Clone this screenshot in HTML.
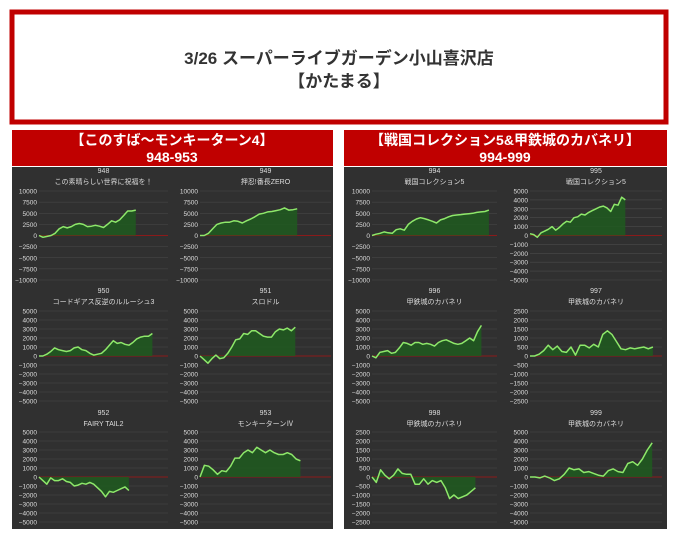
<!DOCTYPE html>
<html><head><meta charset="utf-8">
<style>
body{margin:0;width:680px;height:539px;background:#fff;overflow:hidden;font-family:"Liberation Sans","Noto Sans CJK JP",sans-serif;}
</style></head>
<body>
<svg id="svg" width="680" height="539" xmlns="http://www.w3.org/2000/svg">
<rect x="12" y="12" width="654" height="110" fill="#fff" stroke="#c00000" stroke-width="5"/>
<text x="339" y="64" text-anchor="middle" font-size="17" font-weight="bold" fill="#333" font-family="Liberation Sans, Noto Sans CJK JP, sans-serif">3/26 スーパーライブガーデン小山喜沢店</text>
<text x="339" y="87" text-anchor="middle" font-size="17" font-weight="bold" fill="#333" font-family="Liberation Sans, Noto Sans CJK JP, sans-serif">【かたまる】</text>
<rect x="12" y="130" width="321" height="36" fill="#c00000"/>
<text x="172" y="145" text-anchor="middle" font-size="14" font-weight="bold" fill="#fff" font-family="Liberation Sans, Noto Sans CJK JP, sans-serif">【このすば～モンキーターン4】</text>
<text x="172" y="162" text-anchor="middle" font-size="14" font-weight="bold" fill="#fff">948-953</text>
<rect x="12" y="167" width="321" height="362" fill="#303030"/>
<rect x="344" y="130" width="323" height="36" fill="#c00000"/>
<text x="505" y="145" text-anchor="middle" font-size="14" font-weight="bold" fill="#fff" font-family="Liberation Sans, Noto Sans CJK JP, sans-serif">【戦国コレクション5&amp;甲鉄城のカバネリ】</text>
<text x="505" y="162" text-anchor="middle" font-size="14" font-weight="bold" fill="#fff">994-999</text>
<rect x="344" y="167" width="323" height="362" fill="#303030"/>
<g id="charts"></g>
</svg>
<script>
const ids=["948","949","950","951","952","953","994","995","996","997","998","999"];
const names=["この素晴らしい世界に祝福を！","押忍!番長ZERO","コードギアス反逆のルルーシュ3","スロドル","FAIRY TAIL2","モンキーターンⅣ","戦国コレクション5","戦国コレクション5","甲鉄城のカバネリ","甲鉄城のカバネリ","甲鉄城のカバネリ","甲鉄城のカバネリ"];
const ranges=[10000,10000,5000,5000,5000,5000,10000,5000,5000,2500,2500,5000];
const tickSteps=[2500,2500,1000,1000,1000,1000,2500,1000,1000,500,500,1000];
const slots=[32,31,33,33,33,30,31,36,32,29,29,27];
const v948=[0,-400,-200,0,500,1500,2000,1700,2000,2500,2700,2500,2000,2100,2300,2100,1800,2500,3300,3000,3500,4500,5500,5500,5700];
const v949=[0,0,500,1500,2500,2800,3000,3000,3300,3200,2800,3300,3700,4200,4800,5000,5300,5400,5600,5800,6200,5700,5800,6000];
const v950=[0,0,200,500,900,700,600,500,600,900,1000,700,600,300,100,200,300,700,1200,1700,1400,1500,1300,1200,1500,1900,2100,2200,2200,2500];
const v951=[0,-400,-800,-300,100,-300,-200,300,1000,1800,1900,2500,2400,2800,2800,2500,2200,2100,2100,2700,3000,2900,3100,2800,3200];
const v952=[0,-400,-800,-100,-400,-400,-200,-500,-600,-1000,-900,-700,-800,-600,-800,-1200,-1600,-2200,-1600,-1700,-1500,-1300,-1100,-1500];
const v953=[0,1300,1200,800,300,700,600,1200,2100,2100,2700,3000,2700,3300,3000,2700,3000,2700,2500,2500,2700,2500,2000,1800];
const v994=[0,300,500,800,600,500,1300,1500,1200,2500,3200,3700,4000,3800,3500,3200,2800,3500,3800,4200,4500,4600,4700,4800,4900,5000,5200,5300,5400,5700];
const v995=[200,100,-200,300,500,700,1000,600,900,1300,1600,1500,2000,2100,2400,2300,2600,2800,3000,3200,3300,3100,2700,3500,3400,4300,4000];
const v996=[0,-200,400,500,600,300,400,900,1500,1400,1200,1500,1500,1300,1400,1300,1100,1500,1700,1800,1600,1400,1300,1400,1700,2000,1700,2700,3400];
const v997=[0,0,100,300,600,350,550,250,200,500,50,600,600,450,650,500,1200,1400,1200,800,400,350,450,400,450,500,400,500];
const v998=[0,-300,400,100,-100,100,450,200,150,150,-400,-400,-100,-400,-200,-300,-200,-600,-1200,-1000,-1200,-1100,-1000,-800,-600];
const v999=[0,0,-100,100,-100,-400,-200,300,1000,800,900,500,600,400,200,100,700,900,600,500,1500,1700,1300,2000,3000,3800];
const series=[v948,v949,v950,v951,v952,v953,v994,v995,v996,v997,v998,v999];
const NS="http://www.w3.org/2000/svg";
const g=document.getElementById('charts');
const colsX=[[39,168],[200,331],[372,497],[530,662]];
const rowsY=[[191,280],[311,401],[432,522]];
const titleY=[[173,184],[293,304],[415,426]];
function mk(tag,attrs,parent){const e=document.createElementNS(NS,tag);for(const k in attrs)e.setAttribute(k,attrs[k]);(parent||g).appendChild(e);return e;}
series.forEach((vals,i)=>{
  const panel=i<6?0:1, k=i%6, col=panel*2+(k%2), row=Math.floor(k/2);
  const [x0,x1]=colsX[col],[y0,y1]=rowsY[row],R=ranges[i];
  const xs=j=>x0+(x1-x0)*j/slots[i];
  const ys=v=>y0+(y1-y0)*(R-v)/(2*R);
  const cg=mk('g',{});
  
  
  const cx=(x0+x1)/2;
  const t1=mk('text',{x:cx,y:titleY[row][0],'text-anchor':'middle','font-size':'7',fill:'#ddd'},cg);t1.textContent=ids[i];
  
  
  const t2=mk('text',{x:cx,y:titleY[row][1],'text-anchor':'middle','font-size':'7',fill:'#ddd'},cg);t2.textContent=names[i];
  
  
  const step=tickSteps[i];
  for(let t=-R;t<=R+1e-6;t+=step){
    const y=ys(t);
    const gl=mk('line',{x1:x0,x2:x1,y1:y,y2:y,stroke:'#4a4a4a','stroke-width':0.6},cg);
    
    
    const lb=mk('text',{x:x0-2,y:y+2.5,'text-anchor':'end','font-size':'6.5',fill:'#ddd'},cg);
    lb.textContent=(t<0?'\u2212':'')+Math.abs(Math.round(t));
    
    
  }
  const zl=mk('line',{x1:x0,x2:x1,y1:ys(0),y2:ys(0),stroke:'#8b1a1a','stroke-width':1},cg);
  
  
  const pts=vals.map((v,j)=>xs(j).toFixed(1)+','+ys(v).toFixed(1));
  const area=mk('polygon',{points:xs(0)+','+ys(0)+' '+pts.join(' ')+' '+xs(vals.length-1)+','+ys(0),fill:'#1e5a1e','fill-opacity':0.85},cg);
  
  
  const ln=mk('polyline',{points:pts.join(' '),fill:'none',stroke:'#8ee86a','stroke-width':1.5,'stroke-linejoin':'round'},cg);
  
  
});
</script>
</body></html>
